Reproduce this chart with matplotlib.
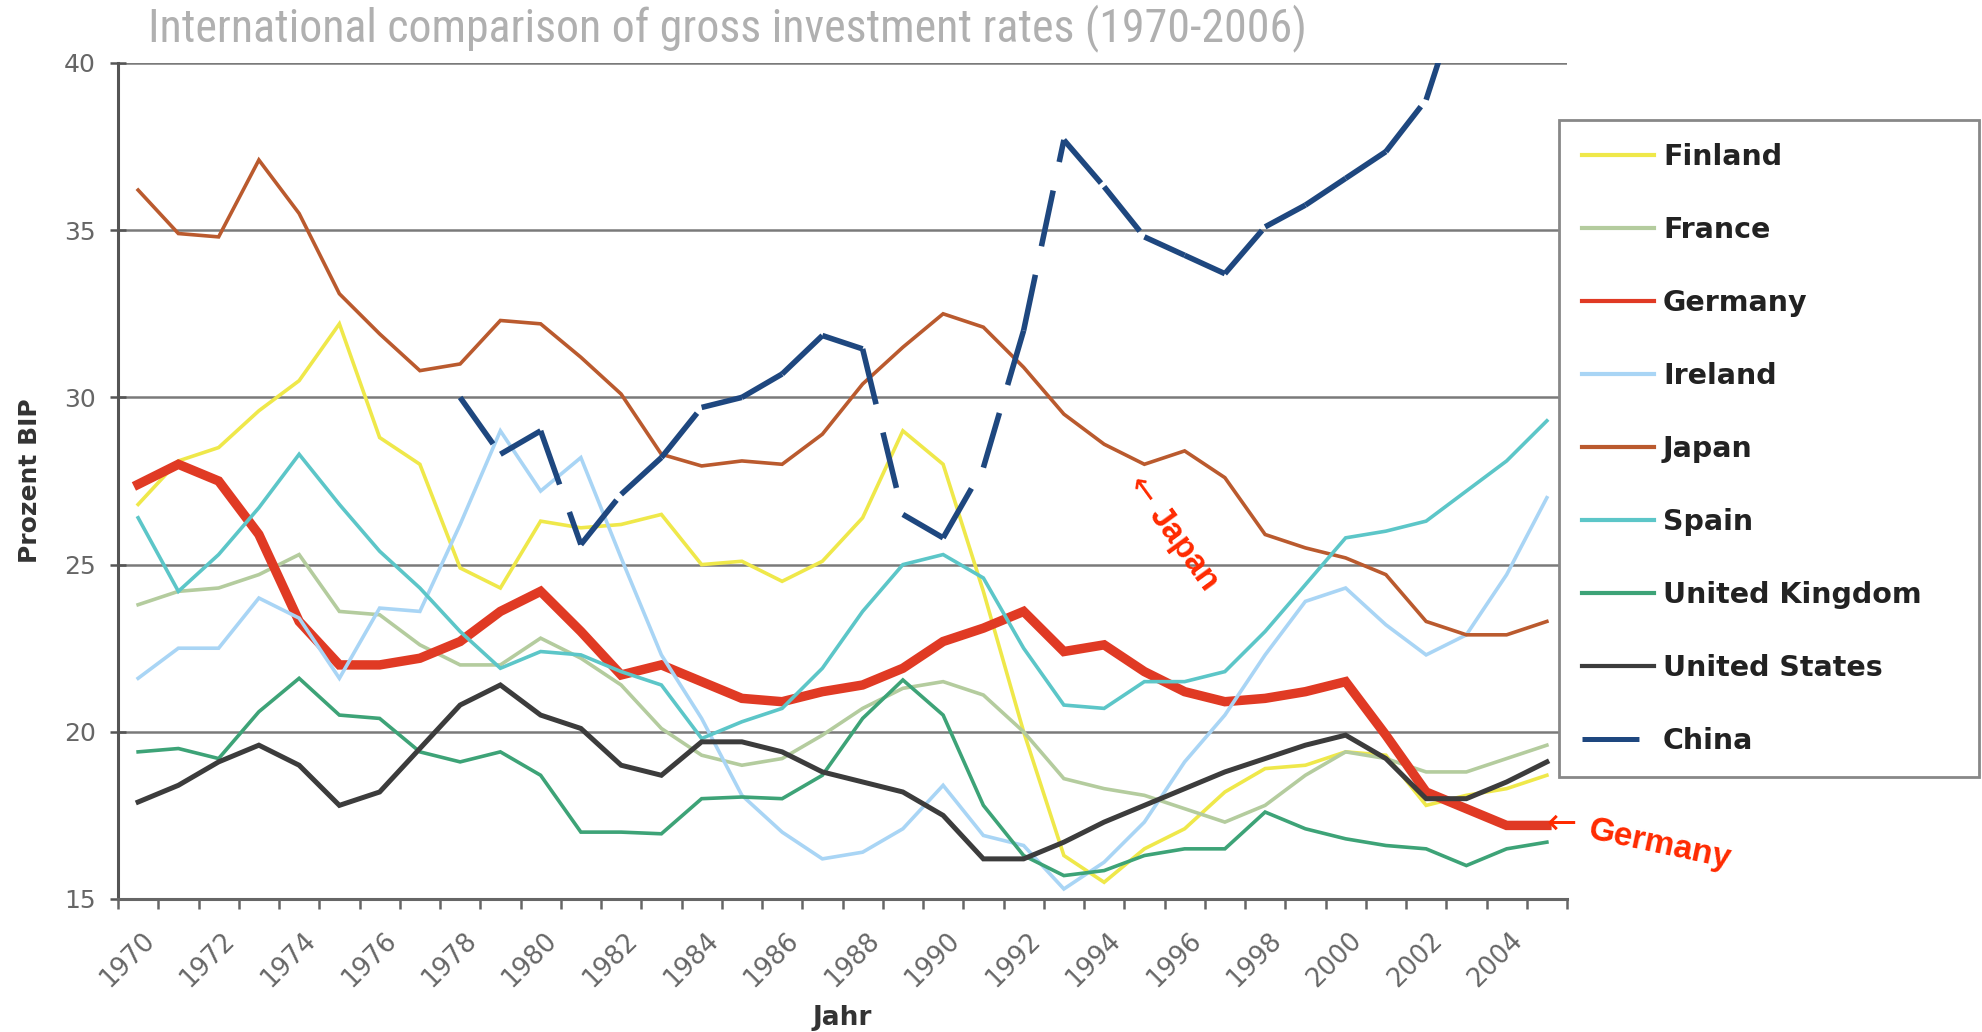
import numpy as np
import matplotlib
matplotlib.use("Agg")
import matplotlib.pyplot as plt
from matplotlib import font_manager
from matplotlib.lines import Line2D
from matplotlib.transforms import ScaledTranslation

plt.rcParams['lines.scale_dashes'] = False
plt.rcParams['font.family'] = ['DejaVu Sans']

years = list(range(1970, 2006))

finland = [26.8, 28.1, 28.5, 29.6, 30.5, 32.2, 28.8, 28.0, 24.9, 24.3, 26.3, 26.1,
           26.2, 26.5, 25.0, 25.1, 24.5, 25.1, 26.4, 29.0, 28.0, 24.2, 20.0, 16.3,
           15.5, 16.5, 17.1, 18.2, 18.9, 19.0, 19.4, 19.3, 17.8, 18.1, 18.3, 18.7]
france = [23.8, 24.2, 24.3, 24.7, 25.3, 23.6, 23.5, 22.6, 22.0, 22.0, 22.8, 22.2,
          21.4, 20.1, 19.3, 19.0, 19.2, 19.9, 20.7, 21.3, 21.5, 21.1, 20.0, 18.6,
          18.3, 18.1, 17.7, 17.3, 17.8, 18.7, 19.4, 19.2, 18.8, 18.8, 19.2, 19.6]
germany = [27.4, 28.0, 27.5, 25.9, 23.3, 22.0, 22.0, 22.2, 22.7, 23.6, 24.2, 23.0,
           21.7, 22.0, 21.5, 21.0, 20.9, 21.2, 21.4, 21.9, 22.7, 23.1, 23.6, 22.4,
           22.6, 21.8, 21.2, 20.9, 21.0, 21.2, 21.5, 19.9, 18.2, 17.7, 17.2, 17.2]
ireland = [21.6, 22.5, 22.5, 24.0, 23.4, 21.6, 23.7, 23.6, 26.2, 29.0, 27.2, 28.2,
           25.2, 22.3, 20.4, 18.1, 17.0, 16.2, 16.4, 17.1, 18.4, 16.9, 16.6, 15.3,
           16.1, 17.3, 19.1, 20.5, 22.3, 23.9, 24.3, 23.2, 22.3, 22.9, 24.7, 27.0]
japan = [36.2, 34.9, 34.8, 37.1, 35.5, 33.1, 31.9, 30.8, 31.0, 32.3, 32.2, 31.2,
         30.1, 28.3, 27.95, 28.1, 28.0, 28.9, 30.4, 31.5, 32.5, 32.1, 30.9, 29.5,
         28.6, 28.0, 28.4, 27.6, 25.9, 25.5, 25.2, 24.7, 23.3, 22.9, 22.9, 23.3]
spain = [26.4, 24.2, 25.3, 26.7, 28.3, 26.8, 25.4, 24.3, 23.0, 21.9, 22.4, 22.3,
         21.8, 21.4, 19.8, 20.3, 20.7, 21.9, 23.6, 25.0, 25.3, 24.6, 22.5, 20.8,
         20.7, 21.5, 21.5, 21.8, 23.0, 24.4, 25.8, 26.0, 26.3, 27.2, 28.1, 29.3]
uk = [19.4, 19.5, 19.2, 20.6, 21.6, 20.5, 20.4, 19.4, 19.1, 19.4, 18.7, 17.0,
      17.0, 16.95, 18.0, 18.05, 18.0, 18.7, 20.4, 21.55, 20.5, 17.8, 16.3, 15.7,
      15.85, 16.3, 16.5, 16.5, 17.6, 17.1, 16.8, 16.6, 16.5, 16.0, 16.5, 16.7]
usa = [17.9, 18.4, 19.1, 19.6, 19.0, 17.8, 18.2, 19.5, 20.8, 21.4, 20.5, 20.1,
       19.0, 18.7, 19.7, 19.7, 19.4, 18.8, 18.5, 18.2, 17.5, 16.2, 16.2, 16.7,
       17.3, 17.8, 18.3, 18.8, 19.2, 19.6, 19.9, 19.2, 18.0, 18.0, 18.5, 19.1]
china = [None] * 8 + [30.0, 28.3, 29.0, 25.6, 27.1, 28.2, 29.7, 30.0, 30.7, 31.85,
                      31.45, 26.5, 25.8, 27.9, 32.0, 37.7, 36.3, 34.8, 34.25, 33.7,
                      35.1, 35.75, 36.55, 37.35, 38.9, 42.6, 43.5, 44.0]

names = ["Finland", "France", "Germany", "Ireland", "Japan", "Spain",
         "United Kingdom", "United States", "China"]
series = [finland, france, germany, ireland, japan, spain, uk, usa]
colors = ["#EFE84A", "#B4CC9E", "#E03A24", "#A9D5F5", "#BA5A2E", "#5CC6C8",
          "#3DA377", "#3C3C3C", "#1E477F"]
widths = [2.6, 2.6, 6.8, 2.6, 2.6, 2.6, 2.6, 3.6, 4.0]
china_dash = (41, 21)

fig = plt.figure(figsize=(19.83, 10.32), dpi=100)
ax = fig.add_axes([118 / 1983, 1 - 899 / 1032, (1567 - 118) / 1983, (899 - 63) / 1032])

x = np.arange(len(years)) + 0.5

for i in range(len(series)):
    ax.plot(x, series[i], color=colors[i], lw=widths[i], solid_joinstyle="miter", zorder=3 + i)

# excel restarts the dash pattern on every segment
for k in range(len(china) - 1):
    if china[k] is None or china[k + 1] is None:
        continue
    ax.plot(x[k:k + 2], china[k:k + 2], color=colors[8], lw=widths[8],
            dashes=china_dash, dash_capstyle="butt", zorder=12)

ax.set_xlim(0, len(years))
ax.set_ylim(15, 40)
ax.set_yticks([15, 20, 25, 30, 35, 40])
ax.yaxis.grid(True, color="#7a7a7a", lw=1.8)
ax.set_axisbelow(True)
for s in ["top", "right"]:
    ax.spines[s].set_visible(False)
ax.spines["left"].set_color("#555555")
ax.spines["left"].set_linewidth(2.2)
ax.spines["bottom"].set_color("#666666")
ax.spines["bottom"].set_linewidth(2.2)

ax.tick_params(axis="y", direction="inout", length=12, width=1.8, color="#555555",
               labelsize=18, labelcolor="#666666", pad=10)

ax.set_xticks(np.arange(0, len(years) + 1), minor=True)
ax.set_xticks(x[::2])
ax.set_xticklabels([str(y) for y in years[::2]], rotation=45, ha="right",
                   rotation_mode="anchor", va="center")
ax.tick_params(axis="x", which="major", length=0, labelsize=18.5, labelcolor="#666666", pad=27)
ax.tick_params(axis="x", which="minor", direction="out", length=7, width=1.8, color="#666666")
off = ScaledTranslation(9 / 72, 0, fig.dpi_scale_trans)
for lab in ax.get_xticklabels():
    lab.set_transform(lab.get_transform() + off)

ax.set_ylabel("Prozent BIP", fontsize=18, fontweight="bold", color="#333333", labelpad=16)
ax.set_xlabel("Jahr", fontsize=19, fontweight="bold", color="#333333", labelpad=9)

handles = [Line2D([], [], color=colors[i], lw=3.0) for i in range(len(series))]
handles.append(Line2D([], [], color=colors[8], lw=3.6, dashes=china_dash, dash_capstyle="butt"))
leg = fig.legend(handles, names, loc="upper left",
                 bbox_to_anchor=(1559 / 1983, 1 - 775 / 1032, 420 / 1983, 655 / 1032),
                 mode="expand", fancybox=False, edgecolor="#888888", framealpha=1,
                 prop={"family": "DejaVu Sans", "weight": "bold", "size": 20.5},
                 labelspacing=1.58, handlelength=2.55, handletextpad=0.3, borderpad=0.8,
                 borderaxespad=0)
leg.get_frame().set_linewidth(2.0)
for t in leg.get_texts():
    t.set_color("#222222")

red = "#FF2A00"
ax.text(25.44, 27.2, "\u2190", color=red, fontsize=24, family="DejaVu Sans",
        rotation=-54, rotation_mode="anchor", ha="center", va="center", zorder=20)
ax.text(26.48, 25.47, "Japan", color=red, fontsize=24, fontweight="bold",
        family=["Liberation Sans", "DejaVu Sans"], rotation=-54,
        rotation_mode="anchor", ha="center", va="center", zorder=20)
ax.text(35.85, 17.25, "\u2190", color=red, fontsize=26, family="DejaVu Sans",
        ha="center", va="center", clip_on=False, zorder=20)
ax.text(38.31, 16.62, "Germany", color=red, fontsize=24, fontweight="bold",
        family=["Liberation Sans", "DejaVu Sans"], rotation=-12,
        rotation_mode="anchor", ha="center", va="center", clip_on=False, zorder=20)

avail = {f.name for f in font_manager.fontManager.ttflist}
title_font = "Liberation Sans"
for cand in ["Liberation Sans Narrow", "Roboto Condensed", "DejaVu Sans Condensed"]:
    if cand in avail:
        title_font = cand
        break
title = fig.text(148 / 1983, 1 - 4 / 1032, "International comparison of gross investment rates (1970-2006)",
                 color="#b0b0b0", fontsize=33, family=title_font, ha="left", va="top")
# squeeze the title to the width seen in the picture
fig.canvas.draw()
w = title.get_window_extent().width
title.set_fontsize(33 * min(1.0, 1196 / w))

fig.savefig("out.png", dpi=100)
